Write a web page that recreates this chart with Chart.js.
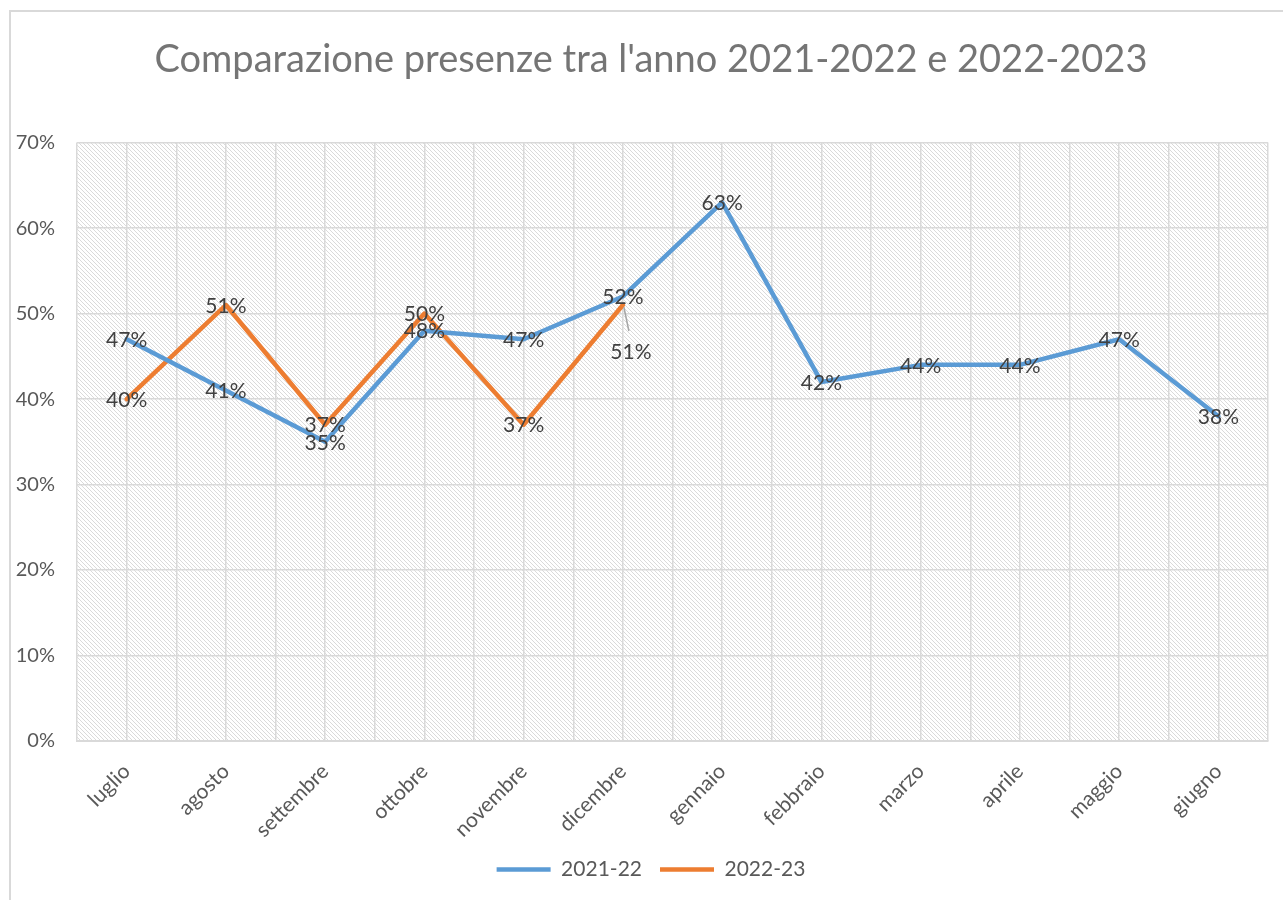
<!DOCTYPE html>
<html>
<head>
<meta charset="utf-8">
<script src="https://cdn.jsdelivr.net/npm/chart.js@4.4.1/dist/chart.umd.min.js"></script>
<style>
    html, body { margin: 0; padding: 0; background: #fff; overflow: hidden; }
    #wrap { position: relative; width: 1283px; height: 900px; }
</style>
</head>
<body>
<div id="wrap"><canvas id="presenze_chart"></canvas></div>
<script>
    // mesi (anno scolastico luglio-giugno)
    const mesi = ['luglio', 'agosto', 'settembre', 'ottobre', 'novembre', 'dicembre',
                  'gennaio', 'febbraio', 'marzo', 'aprile', 'maggio', 'giugno'];
    // presenze in %
    const presenze_2122 = [47, 41, 35, 48, 47, 52, 63, 42, 44, 44, 47, 38];
    const presenze_2223 = [40, 51, 37, 50, 37, 51];
    const y_ticks = [0, 10, 20, 30, 40, 50, 60, 70];
    // spostamento etichette (solo dicembre 2022-23 e' staccata con linea guida)
    const label_shift_2223 = [[0, 0], [0, 0], [0, 0], [0, 0], [0, 0], [8, 46]];

    const blue = '#5b9bd5';
    const orange = '#ed7d31';
    const grid_color = '#d9d9d9';
    const text_color = '#595959';
    const font_family = 'Lato, "Open Sans", sans-serif';

    // tratteggio diagonale dello sfondo area grafico
    const hatch = document.createElement('canvas');
    hatch.width = 4;
    hatch.height = 4;
    const hctx = hatch.getContext('2d');
    hctx.fillStyle = '#ffffff';
    hctx.fillRect(0, 0, 4, 4);
    hctx.fillStyle = '#dadada';
    for (let i = 0; i < 4; i++) {
        hctx.fillRect(i, i, 1, 1);
    }

    const bgPlugin = {
        id: 'bg_hatch',
        beforeDraw(chart) {
            const ctx = chart.ctx;
            const a = chart.chartArea;
            ctx.save();
            // cornice esterna
            ctx.strokeStyle = grid_color;
            ctx.lineWidth = 2;
            ctx.strokeRect(10, 11, chart.width + 20, chart.height + 20);
            ctx.fillStyle = ctx.createPattern(hatch, 'repeat');
            ctx.fillRect(a.left, a.top, a.right - a.left, a.bottom - a.top);
            ctx.restore();
        }
    };

    const labelPlugin = {
        id: 'value_labels',
        afterDatasetsDraw(chart) {
            const ctx = chart.ctx;
            ctx.save();
            ctx.font = '21px ' + font_family;
            ctx.fillStyle = '#404040';
            ctx.textAlign = 'center';
            ctx.textBaseline = 'middle';
            chart.data.datasets.forEach((ds, di) => {
                const meta = chart.getDatasetMeta(di);
                meta.data.forEach((pt, i) => {
                    const shift = ds.label_shift ? ds.label_shift[i] : [0, 0];
                    const lx = pt.x + shift[0];
                    const ly = pt.y + shift[1];
                    if (shift[1] > 20) {
                        ctx.strokeStyle = '#a6a6a6';
                        ctx.lineWidth = 1.5;
                        ctx.beginPath();
                        ctx.moveTo(pt.x + 1, pt.y + 2);
                        ctx.lineTo(lx - 2, ly - 20);
                        ctx.stroke();
                    }
                    ctx.fillText(ds.data[i] + '%', lx, ly + 1);
                });
            });
            ctx.restore();
        }
    };

    let chartCanvas = document.getElementById('presenze_chart').getContext('2d');
    let chartObject = new Chart(chartCanvas, {
        type: 'line',
        data: {
            labels: mesi,
            datasets: [{
                label: '2021-22',
                data: presenze_2122,
                borderColor: blue,
                backgroundColor: blue,
                borderWidth: 4.5,
                pointRadius: 0,
                pointHoverRadius: 0,
                borderCapStyle: 'round',
                borderJoinStyle: 'round',
                fill: false,
                tension: 0,
            }, {
                label: '2022-23',
                data: presenze_2223,
                label_shift: label_shift_2223,
                borderColor: orange,
                backgroundColor: orange,
                borderWidth: 4.5,
                pointRadius: 0,
                pointHoverRadius: 0,
                borderCapStyle: 'round',
                borderJoinStyle: 'round',
                fill: false,
                tension: 0,
            }],
        },
        options: {
            responsive: true,
            maintainAspectRatio: false,
            animation: false,
            layout: {
                padding: { left: 10, right: -9, top: 0, bottom: 10 }
            },
            plugins: {
                tooltip: { enabled: false },
                title: {
                    display: true,
                    text: "Comparazione presenze tra l'anno 2021-2022 e 2022-2023",
                    color: '#757575',
                    font: { family: font_family, size: 38, weight: '400' },
                    padding: { top: 37, bottom: 60 },
                },
                legend: {
                    position: 'bottom',
                    labels: {
                        color: text_color,
                        font: { family: font_family, size: 21 },
                        usePointStyle: true,
                        pointStyle: 'line',
                        pointStyleWidth: 54,
                        padding: 18,
                    }
                }
            },
            scales: {
                x: {
                    offset: true,
                    grid: { color: grid_color, lineWidth: 1.5, offset: false, drawTicks: false },
                    border: { color: grid_color, width: 2 },
                    ticks: {
                        color: text_color,
                        font: { family: font_family, size: 21 },
                        maxRotation: 45,
                        minRotation: 45,
                        padding: 18,
                    },
                    afterFit: function(scale) { scale.height = 100; },
                },
                x2: {
                    type: 'category',
                    labels: mesi,
                    position: 'bottom',
                    offset: true,
                    grid: { color: grid_color, lineWidth: 1.5, offset: true, drawTicks: false },
                    border: { display: false },
                    ticks: { display: false },
                    afterFit: function(scale) { scale.height = 0; },
                },
                y: {
                    min: 0,
                    max: 70,
                    afterBuildTicks: function(scale) {
                        scale.ticks = y_ticks.map(v => ({ value: v }));
                    },
                    grid: { color: grid_color, lineWidth: 1.5, drawTicks: false },
                    border: { display: false },
                    ticks: {
                        color: text_color,
                        font: { family: font_family, size: 20 },
                        padding: 22,
                        callback: function(tick) {
                            return `${tick}%`;
                        },
                    },
                    afterFit: function(scale) { scale.width = 67; },
                },
                // asse vuoto a destra, solo per il margine dell'area grafico
                y_right: {
                    type: 'linear',
                    position: 'right',
                    min: 0,
                    max: 70,
                    grid: { display: false },
                    border: { display: false },
                    ticks: { display: false },
                    afterFit: function(scale) { scale.width = 24; },
                }
            }
        },
        plugins: [bgPlugin, labelPlugin]
    });
</script>
</body>
</html>
